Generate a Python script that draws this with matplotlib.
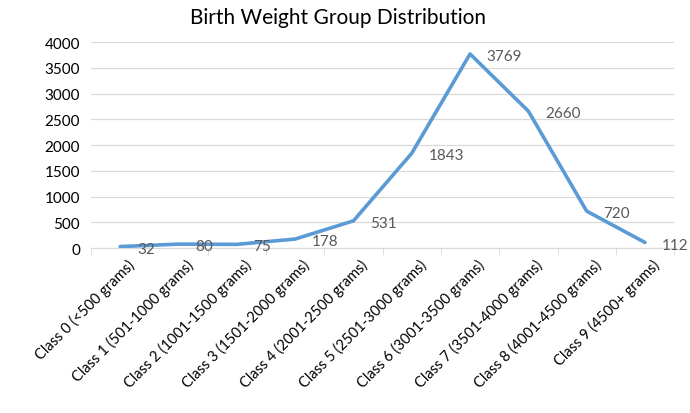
import numpy as np
import matplotlib
matplotlib.use("Agg")
import matplotlib.pyplot as plt
import matplotlib.transforms as mtransforms

# birth weight classes and counts
classes = ["Class 0 (<500 grams)", "Class 1 (501-1000 grams)", "Class 2 (1001-1500 grams)",
           "Class 3 (1501-2000 grams)", "Class 4 (2001-2500 grams)", "Class 5 (2501-3000 grams)",
           "Class 6 (3001-3500 grams)", "Class 7 (3501-4000 grams)", "Class 8 (4001-4500 grams)",
           "Class 9 (4500+ grams)"]
counts = [32, 80, 75, 178, 531, 1843, 3769, 2660, 720, 112]
yticks = [0, 500, 1000, 1500, 2000, 2500, 3000, 3500, 4000]

plt.rcParams['font.family'] = ['Lato', 'DejaVu Sans']
text_col = "#595959"

fig = plt.figure(figsize=(6.9, 4.14), dpi=100)
ax = fig.add_axes([0.132, 0.398, 0.845, 0.498])

x = np.arange(len(classes))
ax.plot(x, counts, color="#5B9BD5", linewidth=2.6, solid_capstyle="round", zorder=3)

# value labels to the right of each point
for xi, v in zip(x, counts):
    ax.annotate(str(v), (xi, v), xytext=(12, -1.5), textcoords="offset points",
                ha="left", va="center", fontsize=11, color=text_col)

ax.set_xlim(-0.5, len(classes) - 0.5)
ax.set_ylim(0, 4000)
ax.set_yticks(yticks)
ax.set_yticklabels([str(t) for t in yticks], fontsize=11, color="black")
ax.yaxis.grid(True, color="#D9D9D9", linewidth=0.9)
ax.set_axisbelow(True)

ax.set_xticks(x)
ax.set_xticklabels(classes, rotation=45, ha="right", rotation_mode="anchor",
                   fontsize=10.5, color="black")
ax.tick_params(axis="x", length=0, pad=6)
ax.tick_params(axis="y", length=0, pad=8)
shift = mtransforms.ScaledTranslation(5 / 72, 0, fig.dpi_scale_trans)
for lbl in ax.get_xticklabels():
    lbl.set_transform(lbl.get_transform() + shift)
ax.set_xticks(np.arange(-0.5, len(classes)), minor=True)
ax.tick_params(axis="x", which="minor", length=5, color="#D9D9D9")

for side in ["top", "right", "left"]:
    ax.spines[side].set_visible(False)
ax.spines["bottom"].set_color("#D9D9D9")

fig.text(0.49, 0.957, "Birth Weight Group Distribution", fontsize=15,
         color="black", ha="center", va="center")

fig.savefig("out.png", dpi=100)
